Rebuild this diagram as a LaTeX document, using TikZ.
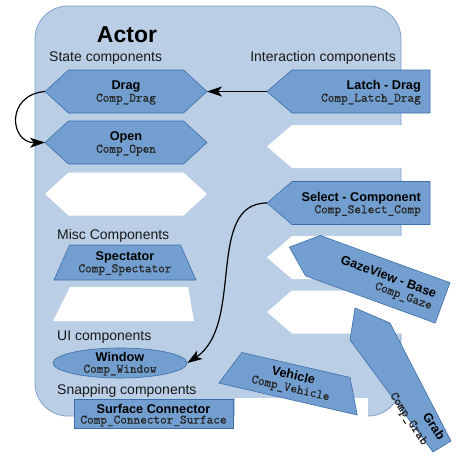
\documentclass[tikz,border=0pt]{standalone}
\usepackage{fontspec}
\setmainfont{Liberation Sans}
\newfontfamily\codefont{lmmono12-regular.otf}[FakeBold=0.9]
\usetikzlibrary{arrows.meta,shapes.geometric}
\definecolor{panelfill}{RGB}{186,206,229}
\definecolor{paneledge}{RGB}{125,162,205}
\definecolor{shapefill}{RGB}{114,159,207}
\definecolor{shapeedge}{RGB}{62,110,170}
\tikzset{
 panel/.style={fill=panelfill, draw=paneledge, line width=0.8pt},
 comp/.style={fill=shapefill, draw=shapeedge, line width=0.6pt},
 slot/.style={fill=white, draw=none},
 titletext/.style={font=\bfseries\fontsize{23}{26}\selectfont, anchor=base, inner sep=0pt},
 section/.style={font=\fontsize{14}{16}\selectfont, anchor=base west, inner sep=0pt, text=black!90},
 lbl/.style={font=\bfseries\fontsize{12.7}{14}\selectfont, anchor=base, inner sep=0pt},
 code/.style={font=\codefont\fontsize{12.9}{14}\selectfont, anchor=base, inner sep=0pt, text=black!85},
 link/.style={line width=1.2pt, -{Stealth[length=15pt,width=10pt,inset=4pt]}},
}
\begin{document}
\begin{tikzpicture}[x=1pt,y=-1pt]
\useasboundingbox (0,0) rectangle (459,461);
% panel
\path[panel, rounded corners=33pt] (35,6) rectangle (401,416);
\node[titletext] (actor) at (127,42.5) {Actor};
\node[section] (statelbl) at (49,61.5) {State components};
\node[section, anchor=base east] (interlbl) at (396,61.5) {Interaction components};
\node[section] (misclbl) at (57,239) {Misc Components};
\node[section] (uilbl) at (57,340) {UI components};
\node[section] (snaplbl) at (57,394) {Snapping components};
% state hexagons
\path[comp, shift={(126,91.5)}] (-81,0) -- (-57.5,-21.5) -- (57.5,-21.5) -- (81,0) -- (57.5,21.5) -- (-57.5,21.5) -- cycle;
\path[comp, shift={(126,142.5)}] (-81,0) -- (-57.5,-21.5) -- (57.5,-21.5) -- (81,0) -- (57.5,21.5) -- (-57.5,21.5) -- cycle;
\path[slot, shift={(126,194)}] (-81,0) -- (-57.5,-21.5) -- (57.5,-21.5) -- (81,0) -- (57.5,21.5) -- (-57.5,21.5) -- cycle;
\coordinate (dragW) at (45,91.5);
\coordinate (dragE) at (207,91.5);
\coordinate (openW) at (45,142.5);
\node[lbl] (dragT) at (126,89.5) {Drag};
\node[code] (dragC) at (126,101.7) {Comp\_Drag};
\node[lbl] (openT) at (126,140.5) {Open};
\node[code] (openC) at (126,152.7) {Comp\_Open};
% misc trapezoids
\path[comp] (69.5,245) -- (180.5,245) -- (196,280) -- (54,280) -- cycle;
\path[slot] (70,287) -- (188,287) -- (194,321) -- (53,321) -- cycle;
\node[lbl] (specT) at (125,260) {Spectator};
\node[code] (specC) at (125,272.3) {Comp\_Spectator};
% window
\node[comp, ellipse, minimum width=134pt, minimum height=30pt, inner sep=0pt] (window) at (120,363) {};
\node[lbl] (winT) at (120,361.5) {Window};
\node[code] (winC) at (120,372.7) {Comp\_Window};
% interaction pentagons
\path[comp, shift={(348.5,91.5)}] (-81.5,0) -- (-56.5,-21.5) -- (81.5,-21.5) -- (81.5,21.5) -- (-56.5,21.5) -- cycle;
\path[slot, shift={(348.5,146.5)}] (-81.5,0) -- (-56.5,-21.5) -- (81.5,-21.5) -- (81.5,21.5) -- (-56.5,21.5) -- cycle;
\path[comp, shift={(348.5,203)}] (-81.5,0) -- (-56.5,-21.5) -- (81.5,-21.5) -- (81.5,21.5) -- (-56.5,21.5) -- cycle;
\path[slot, shift={(348.5,257.5)}] (-81.5,0) -- (-56.5,-21.5) -- (81.5,-21.5) -- (81.5,21.5) -- (-56.5,21.5) -- cycle;
\path[slot, shift={(348.5,312)}] (-81.5,0) -- (-56.5,-21.5) -- (81.5,-21.5) -- (81.5,21.5) -- (-56.5,21.5) -- cycle;
\coordinate (latchW) at (267,91.5);
\coordinate (selW) at (267,203);
\node[lbl, anchor=base east] (latchT) at (421,89.5) {Latch - Drag};
\node[code, anchor=base east] (latchC) at (421,101.7) {Comp\_Latch\_Drag};
\node[lbl, anchor=base east] (selT) at (421,201) {Select - Component};
\node[code, anchor=base east] (selC) at (421,213.2) {Comp\_Select\_Comp};
% gaze view (tilted)
\begin{scope}[shift={(366,275)}, rotate=-20]
 \path[comp] (-81.5,0) -- (-56.5,-21.5) -- (81.5,-21.5) -- (81.5,21.5) -- (-56.5,21.5) -- cycle;
 \node[lbl, anchor=base east, rotate=-20] (gazeT) at (72.5,-2) {GazeView - Base};
 \node[code, anchor=base east, rotate=-20] (gazeC) at (72.5,10.2) {Comp\_Gaze};
\end{scope}
% bottom white slot and surface connector
\path[slot] (235,398) rectangle (368,428);
\node[comp, minimum width=159pt, minimum height=29pt, inner sep=0pt] (surface) at (153.5,413.5) {};
\node[lbl] (surfT) at (153.5,413.3) {Surface Connector};
\node[code] (surfC) at (153.5,423.6) {Comp\_Connector\_Surface};
% vehicle (tilted)
\begin{scope}[shift={(292,382)}, rotate=-13]
 \path[comp] (-55.5,-17.5) -- (55.5,-17.5) -- (71,17.5) -- (-71,17.5) -- cycle;
 \node[lbl, rotate=-13] (vehT) at (0,-2.5) {Vehicle};
 \node[code, rotate=-13] (vehC) at (0,9.8) {Comp\_Vehicle};
\end{scope}
% grab (tilted)
\path[comp] (355,308) -- (390,323) -- (451,441) -- (433,452) -- (350,340) -- cycle;
\begin{scope}[shift={(432,442)}, rotate=-57]
 \node[lbl, anchor=base east, rotate=-57] (grabT) at (3,-6) {Grab};
 \node[code, anchor=base east, rotate=-57] (grabC) at (-2,10) {Comp\_Grab};
\end{scope}
% connectors
\draw[link] (latchW) -- (dragE);
\draw[link] (dragW) .. controls (5,95) and (10,143) .. (openW);
\draw[link] (selW) .. controls (205,203) and (245,325) .. (window.east);
\end{tikzpicture}
\end{document}
